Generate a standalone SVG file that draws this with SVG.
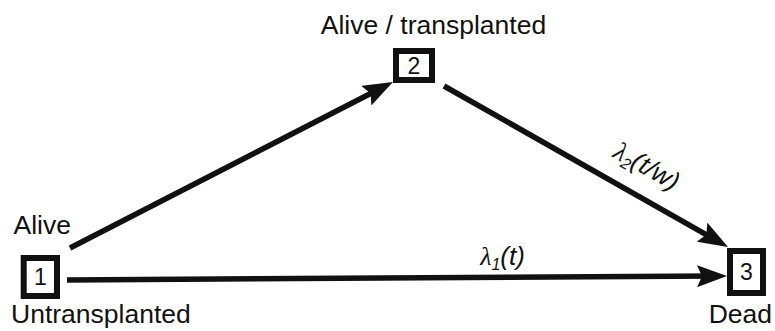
<svg xmlns="http://www.w3.org/2000/svg" width="775" height="331" viewBox="0 0 775 331">
<style>
  .lbl { font-family: "Liberation Sans", Arial, sans-serif; font-size: 26.5px; fill: #111; }
  .num { font-family: "Liberation Sans", Arial, sans-serif; font-size: 23px; fill: #111; text-anchor: middle; }
  .box { fill: #fff; stroke: #111; stroke-width: 6; }
  .edge { stroke: #111; stroke-width: 5.5; fill: none; marker-end: url(#ah); }
  .rate { font-family: "Liberation Sans", Arial, sans-serif; font-style: italic; font-size: 26px; fill: #111; }
  .lam { font-family: "Liberation Serif", serif; font-style: italic; }
</style>
<defs>
  <marker id="ah" viewBox="0 0 30 22" markerWidth="30" markerHeight="22" refX="18" refY="11" orient="auto" markerUnits="userSpaceOnUse">
    <path d="M0,0 L30,11 L0,22 L5,11 z" fill="#111"/>
  </marker>
</defs>
<rect width="775" height="331" fill="#fff"/>
<g id="connectors">
  <line class="edge" x1="67" y1="280" x2="715" y2="276.1"/>
  <line class="edge" x1="70" y1="248" x2="382.3" y2="87.5"/>
  <line class="edge" x1="444" y1="86" x2="717.6" y2="241.1"/>
  <text class="rate" x="502.5" y="265" text-anchor="middle"><tspan class="lam">λ</tspan><tspan font-size="16" dy="5">1</tspan><tspan dy="-5">(t)</tspan></text>
  <text class="rate" transform="translate(647,166) rotate(29.5)" text-anchor="middle" y="9"><tspan class="lam">λ</tspan><tspan font-size="16" dy="5">2</tspan><tspan dy="-5">(t/w)</tspan></text>
</g>
<g id="node1">
  <rect class="box" x="23.7" y="258" width="33.3" height="38"/>
  <text class="num" x="40.3" y="285">1</text>
  <text class="lbl" x="13.5" y="234">Alive</text>
  <text class="lbl" x="11" y="323">Untransplanted</text>
</g>
<g id="node2">
  <rect class="box" x="396" y="51" width="36" height="29"/>
  <text class="num" x="414" y="73.5">2</text>
  <text class="lbl" x="433.5" y="34" text-anchor="middle">Alive / transplanted</text>
</g>
<g id="node3">
  <rect class="box" x="730" y="251" width="33" height="42"/>
  <text class="num" x="746.5" y="280">3</text>
  <text class="lbl" x="772" y="323" text-anchor="end" font-size="24">Dead</text>
</g>
</svg>
